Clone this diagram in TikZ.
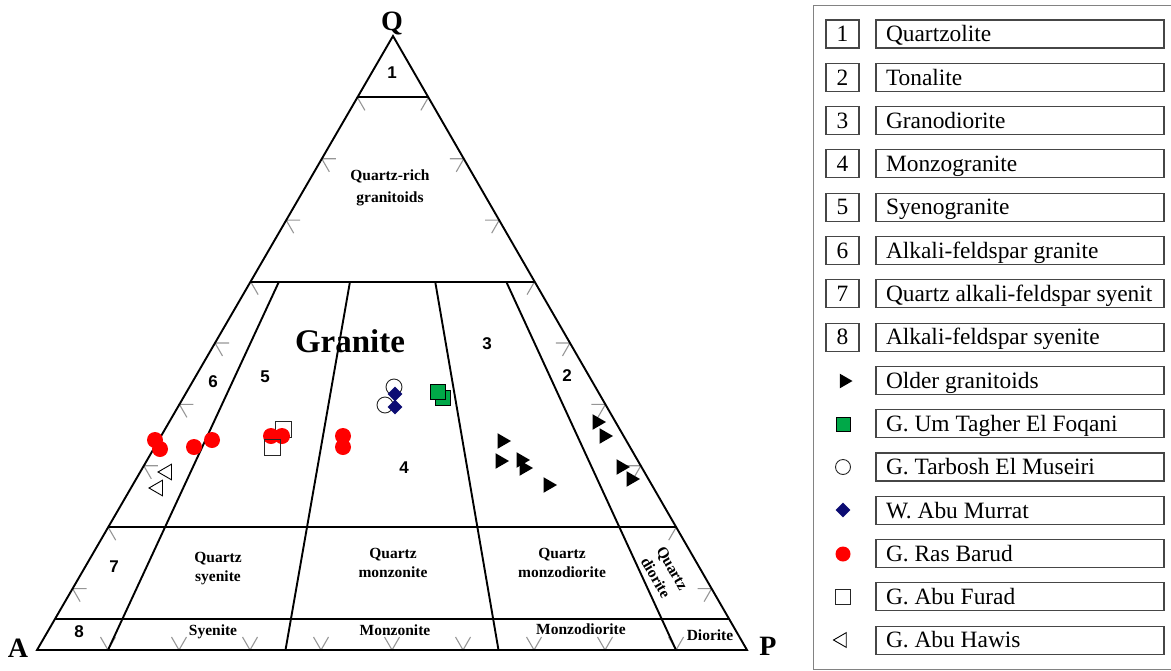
\documentclass[tikz,border=0pt]{standalone}
\usepackage{fontspec}
\setmainfont{Liberation Serif}
\newfontfamily\arialfont{Liberation Sans}
\usetikzlibrary{calc,shapes.geometric}
\definecolor{ptgreen}{RGB}{0,168,72}
\definecolor{ptnavy}{RGB}{12,12,115}
\definecolor{tickgray}{RGB}{150,150,150}
\definecolor{boxgray}{RGB}{70,70,70}
\definecolor{outergray}{RGB}{130,130,130}
\begin{document}
\begin{tikzpicture}[x=1pt,y=-1pt,
  field/.style={line width=1.9pt, black},
  tickmark/.style={tickgray, line width=1.1pt},
  numlbl/.style={font={\arialfont\bfseries\fontsize{17}{20}\selectfont}, inner sep=0},
  fieldlbl/.style={font={\bfseries\fontsize{15.5}{19}\selectfont}, align=center, inner sep=0},
  vertexlbl/.style={font={\bfseries\fontsize{28}{32}\selectfont}, inner sep=0, anchor=base},
  redpt/.style={circle, fill=red, inner sep=0, minimum size=16},
  opencirc/.style={circle, draw=black!85, line width=0.9pt, inner sep=0, minimum size=16},
  opensq/.style={rectangle, draw=black!85, line width=0.9pt, inner sep=0, minimum size=16},
  greensq/.style={rectangle, draw=black, fill=ptgreen, line width=0.8pt, inner sep=0, minimum size=15},
  bluedia/.style={diamond, fill=ptnavy, inner sep=0, minimum size=15},
  blacktri/.style={regular polygon, regular polygon sides=3, shape border rotate=-90, fill=black, inner sep=0, minimum size=18},
  opentri/.style={regular polygon, regular polygon sides=3, shape border rotate=90, draw=black, line width=0.9pt, inner sep=0, minimum size=18},
  numbox/.style={draw=boxgray, line width=1.1pt, minimum width=33, minimum height=28, inner sep=0, text height=15.5, text depth=0,
     font={\fontsize{23.4}{28}\selectfont}},
  txtbox/.style={draw=boxgray, line width=1.1pt, minimum width=288, minimum height=28, inner xsep=10, inner ysep=0,
     text height=15.5, text depth=0, font={\fontsize{23.4}{28}\selectfont}},
]
\useasboundingbox (0,0) rectangle (1171,670);
\coordinate (A) at (37,650);
\coordinate (P) at (747,650);
\coordinate (Q) at (393,36);

% gray tick marks
\foreach \k in {1,...,9} {
  \coordinate (L) at ($(A)!\k*0.1!(Q)$);
  \coordinate (R) at ($(P)!\k*0.1!(Q)$);
  \coordinate (B) at ($(A)!\k*0.1!(P)$);
  \draw[tickmark] ($(L)+(14,0)$) -- (L) -- ($(L)+(7.5,13)$);
  \draw[tickmark] ($(R)+(-14,0)$) -- (R) -- ($(R)+(-7.5,13)$);
  \draw[tickmark] ($(B)+(-7.5,-13)$) -- (B) -- ($(B)+(7.5,-13)$);
}

% field boundaries
\foreach \q in {0.9,0.6,0.2,0.05}
  \draw[field] ($(A)!\q!(Q)$) -- ($(P)!\q!(Q)$);
\foreach \r in {0.1,0.35,0.65,0.9} {
  \coordinate (b) at ($(A)!\r!(P)$);
  \draw[field] (b) -- ($(b)!0.6!(Q)$);
}
\draw[field] (A) -- (P) -- (Q) -- cycle;

% vertex labels
\node[vertexlbl] (lq) at (392,30) {Q};
\node[vertexlbl] (la) at (18,657) {A};
\node[vertexlbl] (lp) at (768,655) {P};

% field numbers
\node[numlbl] (f1) at (392,73) {1};
\node[numlbl] (f2) at (567,376) {2};
\node[numlbl] (f3) at (487,344) {3};
\node[numlbl] (f4) at (404,468) {4};
\node[numlbl] (f5) at (265,377) {5};
\node[numlbl] (f6) at (213,382) {6};
\node[numlbl] (f7) at (114,567) {7};
\node[numlbl] (f8) at (79,632) {8};

% field names
\node[fieldlbl, font={\bfseries\fontsize{15.5}{22}\selectfont}] (qrg) at (390,188) {Quartz-rich\\granitoids};
\node[font={\bfseries\fontsize{33}{36}\selectfont}, inner sep=0, anchor=base] (gran) at (350,352) {Granite};
\node[fieldlbl] (qsy) at (218,569) {Quartz\\syenite};
\node[fieldlbl] (qmz) at (393,563) {Quartz\\monzonite};
\node[fieldlbl] (qmd) at (562,563) {Quartz\\monzodiorite};
\node[fieldlbl, rotate=-60] (qdi) at (664,573) {Quartz\\diorite};
\node[fieldlbl, anchor=base] (sy) at (213,635) {Syenite};
\node[fieldlbl, anchor=base] (mz) at (395,635) {Monzonite};
\node[fieldlbl, anchor=base] (md) at (581,634) {Monzodiorite};
\node[fieldlbl, anchor=base] (di) at (710,640) {Diorite};

% data points
\node[opensq] (s1) at (283,429) {};
\foreach \x/\y [count=\n] in {155/440,160/449,194/447,212/440,271/436,282/436,343/436,343/447}
  \node[redpt] (r\n) at (\x,\y) {};
\node[opensq] (s2) at (272,447) {};
\node[opentri] (h1) at (167,472) {};
\node[opentri] (h2) at (158,488) {};
\node[opencirc] (c1) at (394,387) {};
\node[opencirc] (c2) at (385,405) {};
\node[bluedia] (d1) at (395,394) {};
\node[bluedia] (d2) at (395,407) {};
\node[greensq] (g2) at (443,398) {};
\node[greensq] (g1) at (438,392) {};
\foreach \x/\y [count=\n] in {502/441,500/461,521/460,524/468,548/485,597/422,604/436,621/467,631/479}
  \node[blacktri] (t\n) at (\x,\y) {};

% legend
\node[draw=outergray, line width=1.2pt, anchor=north west, minimum width=400, minimum height=664, inner sep=0] (legend) at (813,5) {};
\foreach \txt [count=\i] in {Quartzolite,Tonalite,Granodiorite,Monzogranite,Syenogranite,Alkali-feldspar granite,Quartz alkali-feldspar syenit,Alkali-feldspar syenite,Older granitoids,G. Um Tagher El Foqani,G. Tarbosh El Museiri,W. Abu Murrat,G. Ras Barud,G. Abu Furad,G. Abu Hawis}
  \node[txtbox] (lt\i) at (1020,{34+(\i-1)*43.3}) {\makebox[268pt][l]{\txt}};
\foreach \i in {1,...,8}
  \node[numbox] (ln\i) at (842.5,{34+(\i-1)*43.3}) {\i};
\node[blacktri, minimum size=17] (k9) at (844,381) {};
\node[greensq, minimum size=14] (k10) at (843,424) {};
\node[opencirc, minimum size=15] (k11) at (843,467) {};
\node[bluedia, minimum size=15] (k12) at (843,510) {};
\node[redpt, minimum size=15] (k13) at (843,554) {};
\node[opensq, minimum size=15] (k14) at (843,597) {};
\node[opentri, minimum size=17] (k15) at (842,640) {};
\end{tikzpicture}
\end{document}
